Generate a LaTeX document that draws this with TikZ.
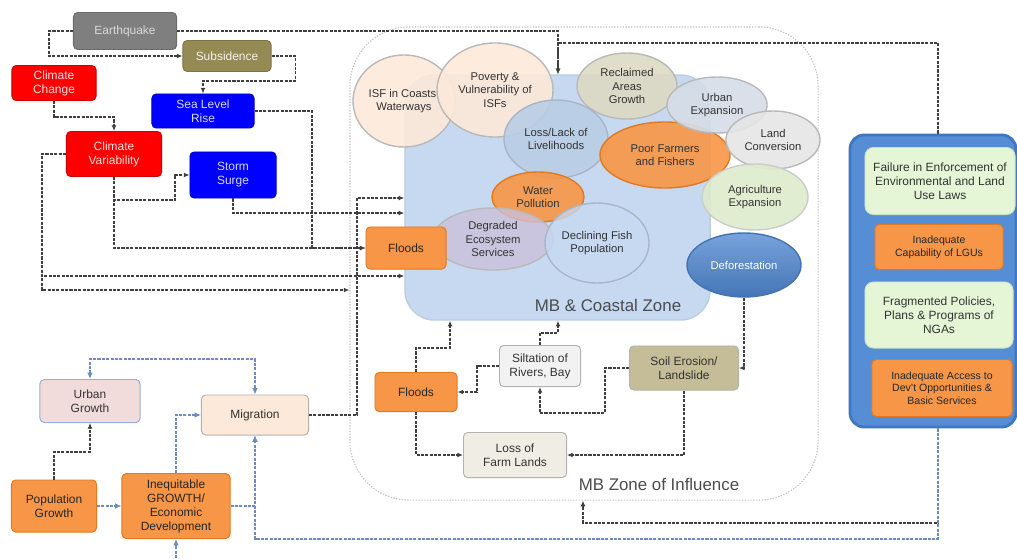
\documentclass[tikz,border=0pt]{standalone}
\usepackage{fontspec}
\setmainfont{Liberation Sans}
\usetikzlibrary{shapes.geometric,arrows.meta}

\definecolor{hazred}{HTML}{FF0000}
\definecolor{hazblue}{HTML}{0000FF}
\definecolor{quakegray}{HTML}{7F7F7F}
\definecolor{subsolive}{HTML}{948A54}
\definecolor{orng}{HTML}{F79646}
\definecolor{orngedge}{HTML}{E3791F}
\definecolor{peach}{HTML}{FDE9D9}
\definecolor{khaki}{HTML}{DDD9C3}
\definecolor{soilkhaki}{HTML}{C4BD97}
\definecolor{coastfill}{HTML}{C6D9F1}
\definecolor{coastedge}{HTML}{B9CDE5}
\definecolor{greyblue}{HTML}{D6DDE8}
\definecolor{lossblue}{HTML}{B9CDE5}
\definecolor{lavender}{HTML}{CCC0DA}
\definecolor{agrigreen}{HTML}{DDEBCB}
\definecolor{defoblue}{HTML}{4F87D1}
\definecolor{panelblue}{HTML}{558ED5}
\definecolor{paneledge}{HTML}{4177C0}
\definecolor{lightgreen}{HTML}{E4F6D6}
\definecolor{rosy}{HTML}{F2DCDB}
\definecolor{linegray}{HTML}{3F3F3F}
\definecolor{lineblue}{HTML}{6A8CC0}

\begin{document}
\begin{tikzpicture}[x=0.025cm,y=-0.025cm,
  box/.style={draw, rounded corners=3pt, align=center, inner sep=1pt, line width=0.7pt, font=\fontsize{8.5}{10}\selectfont},
  hot/.style={box, fill=hazred, draw=hazred!80!black, text=white!88!hazred},
  sea/.style={box, fill=hazblue, draw=hazblue!75!black, text=white!85!hazblue},
  warm/.style={box, fill=orng, draw=orngedge, text=black!85},
  pale/.style={box, fill=#1, draw=gray!60, text=black!80},
  ell/.style={ellipse, draw=gray!55, line width=1pt, align=center, inner sep=0pt, fill=#1, fill opacity=0.9, text opacity=1, text=black!80, font=\fontsize{8}{9.5}\selectfont},
  dline/.style={draw=linegray, line width=1.1pt, dash pattern=on 2.2pt off 0.9pt, -{Latex[length=4pt,width=3.5pt]}},
  bline/.style={draw=lineblue, line width=1.1pt, dash pattern=on 2.2pt off 0.9pt, -{Latex[length=4.5pt,width=4pt]}}]
\useasboundingbox (0,0) rectangle (1017,558);

\node[draw=gray!45, line width=0.8pt, dash pattern=on 1pt off 1pt, rounded corners=42pt, minimum width=11.7cm, minimum height=11.825cm] (zone) at (584,263.5) {};
\node[fill=coastfill, draw=coastedge, line width=1pt, rounded corners=21pt, minimum width=7.625cm, minimum height=6.125cm] (coastal) at (557.5,197.5) {};
\node[text=black!70, font=\fontsize{12}{14}\selectfont] (coastlbl) at (608,305) {MB \& Coastal Zone};
\node[text=black!70, font=\fontsize{12}{14}\selectfont] (zonelbl) at (659,484) {MB Zone of Influence};

\node[box, fill=quakegray, draw=quakegray!85!black, text=white!85!black, minimum width=2.575cm, minimum height=0.925cm] (eq) at (125,31) {Earthquake};
\node[box, fill=subsolive, draw=subsolive!85!black, text=white!90!subsolive, minimum width=2.2cm, minimum height=0.775cm] (subs) at (227,56) {Subsidence};
\node[hot, minimum width=2.1cm, minimum height=0.875cm] (cchange) at (54,83) {Climate\\Change};
\node[sea, minimum width=2.55cm, minimum height=0.85cm] (slr) at (203,111) {Sea Level\\Rise};
\node[hot, minimum width=2.375cm, minimum height=1.125cm] (cvar) at (114,154) {Climate\\Variability};
\node[sea, minimum width=2.15cm, minimum height=1.15cm] (surge) at (233,175) {Storm\\Surge};

\node[ell=peach, minimum width=2.55cm, minimum height=2.3cm] (isf) at (404,101) {ISF in Coasts,\\Waterways};
\node[ell=peach, minimum width=2.9cm, minimum height=2.35cm] (pov) at (495,90) {Poverty \&\\Vulnerability of\\ISFs};
\node[ell=khaki, minimum width=2.5cm, minimum height=1.65cm] (recl) at (627,86) {Reclaimed\\Areas\\Growth};
\node[ell=lossblue, draw=coastedge!70!gray, minimum width=2.6cm, minimum height=1.95cm] (loss) at (556,139) {Loss/Lack of\\Livelihoods};
\node[ell=orng, draw=orngedge, minimum width=3.25cm, minimum height=1.65cm] (poor) at (665,155) {Poor Farmers\\and Fishers};
\node[ell=greyblue, minimum width=2.5cm, minimum height=1.4cm] (urbex) at (717,105) {Urban\\Expansion};
\node[ell=gray!20, minimum width=2.35cm, minimum height=1.45cm] (landc) at (773,140) {Land\\Conversion};
\node[ell=agrigreen, draw=gray!40, minimum width=2.65cm, minimum height=1.65cm] (agri) at (755,197) {Agriculture\\Expansion};
\node[ell=defoblue, top color=defoblue!75!white, bottom color=defoblue!85!black, draw=defoblue!85!black, text=white, minimum width=2.85cm, minimum height=1.6cm] (defo) at (744,265) {Deforestation};
\node[ell=orng, draw=orngedge, minimum width=2.3cm, minimum height=1.25cm] (water) at (538,197) {Water\\Pollution};
\node[ell=lavender, fill opacity=0.8, minimum width=3.0cm, minimum height=1.55cm] (degr) at (493,239) {Degraded\\Ecosystem\\Services};
\node[ell=coastfill, draw=coastedge!70!gray, fill opacity=0.8, minimum width=2.6cm, minimum height=2.0cm] (fish) at (597,243) {Declining Fish\\Population};

\node[warm, minimum width=2.0cm, minimum height=1.05cm] (floodsA) at (406,248) {Floods};
\node[warm, minimum width=2.05cm, minimum height=0.975cm] (floodsB) at (416,392) {Floods};
\node[pale=gray!10, minimum width=2.025cm, minimum height=1.025cm] (silt) at (540,366) {Siltation of\\Rivers, Bay};
\node[pale=soilkhaki, minimum width=2.725cm, minimum height=1.1cm] (soil) at (684,368) {Soil Erosion/\\Landslide};
\node[pale=khaki!45, minimum width=2.575cm, minimum height=1.125cm] (farm) at (515,455) {Loss of\\Farm Lands};

\node[fill=panelblue, draw=paneledge, line width=2pt, rounded corners=10pt, minimum width=4.15cm, minimum height=7.3cm] (gov) at (933,281) {};
\node[pale=lightgreen, draw=lightgreen!80!gray, rounded corners=6pt, minimum width=3.75cm, minimum height=1.675cm] (fail) at (940,181) {Failure in Enforcement of\\Environmental and Land\\Use Laws};
\node[warm, minimum width=3.2cm, minimum height=1.125cm, font=\fontsize{7.5}{9}\selectfont] (lgu) at (939,247) {Inadequate\\Capability of LGUs};
\node[pale=lightgreen, draw=lightgreen!80!gray, rounded corners=6pt, minimum width=3.7cm, minimum height=1.65cm] (frag) at (939,315) {Fragmented Policies,\\Plans \& Programs of\\NGAs};
\node[warm, minimum width=3.5cm, minimum height=1.425cm, font=\fontsize{7.5}{9}\selectfont] (access) at (942,388) {Inadequate Access to\\Dev't Opportunities \&\\Basic Services};

\node[pale=rosy, draw=lineblue!70, minimum width=2.5cm, minimum height=1.075cm] (urban) at (90,401) {Urban\\Growth};
\node[pale=peach, minimum width=2.675cm, minimum height=1.0cm] (migr) at (255,415) {Migration};
\node[warm, minimum width=2.125cm, minimum height=1.3cm] (pop) at (54,506) {Population\\Growth};
\node[warm, minimum width=2.7cm, minimum height=1.625cm] (ineq) at (176,506) {Inequitable\\GROWTH/\\Economic\\Development};
\coordinate (below) at (176,558);

\draw[dline] (eq.west) -- ++(-24,0) |- (subs.west);
\draw[dline] (eq.east) -| (coastal.north -| 558,0);
\draw[dline] (gov.north -| 938,0) |- (558,43) -- (coastal.north -| 558,0);
\draw[dline] (subs.east) -- ++(24,0) |- (203,81) -- (slr.north);
\draw[dline] (cchange.south) |- (114,117) -- (cvar.north);
\draw[dline] (slr.east) -| (312,248) -- (floodsA.west);
\draw[dline] (cvar.south) |- (floodsA.west);
\draw[dline] (cvar.south) |- (175,200) |- (surge.west);
\draw[dline] (surge.south) |- (coastal.west |- 0,213);
\draw[dline] (cvar.west) -| (42,276) -- (coastal.west |- 0,276);
\draw[dline] (cvar.west) -| (42,290) -- (zone.west |- 0,290);
\draw[dline] (migr.east) -| (357,198) -- (coastal.west |- 0,198);
\draw[dline] (gov.south -| 938,0) |- (583,523) -- (zone.south -| 583,0);
\draw[bline] (gov.south -| 938,0) |- (255,539) -- (migr.south);
\draw[bline] (ineq.east) -| (migr.south);
\draw[bline] (pop.east) -- (ineq.west);
\draw[dline] (pop.north) |- (90,452) -- (urban.south);
\draw[bline] (ineq.north) |- (migr.west);
\draw[bline, {Latex[length=4.5pt,width=4pt]}-{Latex[length=4.5pt,width=4pt]}] (urban.north) |- (255,359) -- (migr.north);
\draw[bline] (below) -- (ineq.south);
\draw[dline] (floodsB.north) |- (450,348) -- (coastal.south -| 450,0);
\draw[dline] (silt.north) |- (558,333) -- (coastal.south -| 558,0);
\draw[dline] (silt.west) -| (477,392) -- (floodsB.east);
\draw[dline] (soil.west) -| (605,413) -| (silt.south);
\draw[dline] (soil.south) |- (farm.east);
\draw[dline] (floodsB.south) |- (farm.west);
\draw[dline] (defo.south) |- (soil.east);
\end{tikzpicture}
\end{document}
